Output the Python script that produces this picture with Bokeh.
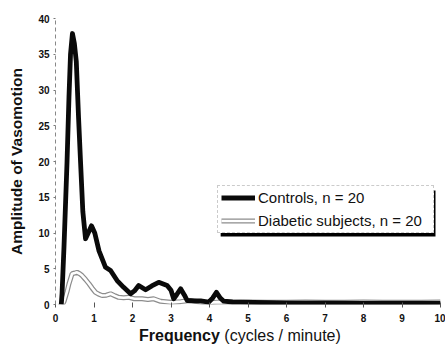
from bokeh.plotting import figure
from bokeh.models import (Range1d, FixedTicker, Legend, LegendItem, BoxAnnotation, Div)
from bokeh.layouts import column
from bokeh.embed import file_html
from bokeh.resources import INLINE

# ---- data ----
freq_controls = [0.15, 0.17, 0.22, 0.30, 0.35, 0.39, 0.44, 0.49, 0.54, 0.60, 0.65, 0.71, 0.78,
                 0.85, 0.935, 1.02, 1.13, 1.30, 1.43, 1.60, 1.77, 1.95, 2.05, 2.16, 2.34, 2.50,
                 2.68, 2.90, 3.00, 3.07, 3.15, 3.25, 3.35, 3.42, 3.60, 3.77, 3.98, 4.08, 4.18,
                 4.28, 4.37, 4.60, 4.80, 5.5, 6.0, 7.0, 8.0, 9.0, 10.0]
amp_controls = [0.0, 1.5, 8.0, 20.0, 29.0, 35.0, 37.9, 36.5, 34.0, 26.0, 20.0, 13.0, 9.2,
                10.0, 11.0, 10.0, 7.5, 5.2, 4.75, 3.35, 2.4, 1.5, 1.9, 2.66, 2.05, 2.6,
                3.1, 2.66, 2.0, 0.8, 1.4, 2.2, 1.3, 0.56, 0.5, 0.5, 0.33, 0.9, 1.7,
                0.9, 0.46, 0.35, 0.33, 0.25, 0.2, 0.2, 0.15, 0.15, 0.15]

freq_diabetic = [0.10, 0.13, 0.17, 0.22, 0.30, 0.35, 0.43, 0.50, 0.56, 0.63, 0.69, 0.78, 0.87,
                 0.95, 1.04, 1.12, 1.21, 1.32, 1.43, 1.55, 1.64, 1.77, 1.90, 2.05, 2.25, 2.40,
                 2.55, 2.73, 3.00, 3.25, 3.50, 3.75, 3.94, 4.20, 4.60, 5.0, 5.5, 6.0, 6.5,
                 7.0, 7.5, 8.0, 8.5, 9.0, 9.5, 10.0]
amp_diabetic = [0.2, 0.1, -0.1, 0.4, 1.8, 2.9, 4.3, 4.4, 4.5, 4.3, 4.05, 3.5, 2.9,
                2.3, 1.7, 1.45, 1.26, 1.3, 1.5, 1.2, 1.0, 0.95, 1.0, 0.8, 0.8, 0.7,
                0.8, 0.45, 0.3, 0.4, 0.56, 0.35, 0.2, 0.33, 0.3, 0.35, 0.3, 0.3, 0.35,
                0.3, 0.3, 0.35, 0.3, 0.3, 0.3, 0.35]

x_ticks = [0, 1, 2, 3, 4, 5, 6, 7, 8, 9, 10]
y_ticks = [0, 5, 10, 15, 20, 25, 30, 35, 40]

label_controls = "Controls, n = 20"
label_diabetic = "Diabetic subjects, n = 20"
y_title = "Amplitude of Vasomotion"
x_title_bold = "Frequency"
x_title_rest = " (cycles / minute)"

FONT = "Liberation Sans"

p = figure(width=445, height=326, output_backend="svg", toolbar_location=None,
           x_range=Range1d(0, 10), y_range=Range1d(0, 40),
           min_border_left=55, min_border_right=5, min_border_top=18, min_border_bottom=22)
p.outline_line_color = None
p.xgrid.visible = False
p.ygrid.visible = False
p.background_fill_color = "white"
p.border_fill_color = "white"

# diabetic: outlined (double) grey line
rd1 = p.line(freq_diabetic, amp_diabetic, line_color="#8c8c8c", line_width=5)
rd2 = p.line(freq_diabetic, amp_diabetic, line_color="white", line_width=2.6)
# controls: thick black
rc = p.line(freq_controls, amp_controls, line_color="#0a0a0a", line_width=4.8, line_join="round")

# axes
xa = p.xaxis[0]
xa.ticker = FixedTicker(ticks=x_ticks)
xa.axis_line_color = None
xa.major_tick_in = 2
xa.major_tick_out = 3
xa.major_tick_line_color = "#555"
xa.minor_tick_line_color = None
xa.major_label_standoff = 6
xa.major_label_text_font = FONT
xa.major_label_text_font_size = "10px"
xa.major_label_text_font_style = "bold"
xa.major_label_text_color = "#111"

ya = p.yaxis[0]
ya.ticker = FixedTicker(ticks=y_ticks)
ya.axis_line_color = "#888"
ya.axis_line_dash = "4 3"
ya.major_tick_in = 0
ya.major_tick_out = 2
ya.major_tick_line_color = "#777"
ya.minor_tick_line_color = None
ya.major_label_standoff = 4
ya.major_label_text_font = FONT
ya.major_label_text_font_size = "10px"
ya.major_label_text_font_style = "bold"
ya.major_label_text_color = "#111"
ya.axis_label = y_title
ya.axis_label_text_font = FONT
ya.axis_label_text_font_size = "15.5px"
ya.axis_label_text_font_style = "bold"
ya.axis_label_text_color = "#111"
ya.axis_label_standoff = 10

# legend shadow
p.add_layout(BoxAnnotation(left=4.29, right=9.87, top=15.94, bottom=9.51,
                           fill_color="black", fill_alpha=1.0, line_color=None))

legend = Legend(items=[LegendItem(label=label_controls, renderers=[rc]),
                       LegendItem(label=label_diabetic, renderers=[rd1, rd2])],
                location=(162, 71), orientation="vertical",
                label_text_font=FONT, label_text_font_size="15px", label_text_color="#111",
                glyph_width=34, glyph_height=17, label_height=17, label_width=172,
                label_standoff=3, spacing=6, padding=3, margin=0,
                border_line_color="#999", border_line_dash="4 3", border_line_width=1,
                background_fill_color="white", background_fill_alpha=1.0)
p.add_layout(legend, "center")

# x-axis title with mixed styles (bold + normal) as real text
x_title = Div(text=f"<b>{x_title_bold}</b>{x_title_rest}", width=445, height=25,
              styles={"font-family": FONT, "font-size": "16px", "color": "#111",
                      "padding-left": "134px", "line-height": "18px", "white-space": "nowrap",
                      "margin-top": "1px"})

layout = column(p, x_title, spacing=0)

open("out.html", "w").write(file_html(layout, INLINE))
